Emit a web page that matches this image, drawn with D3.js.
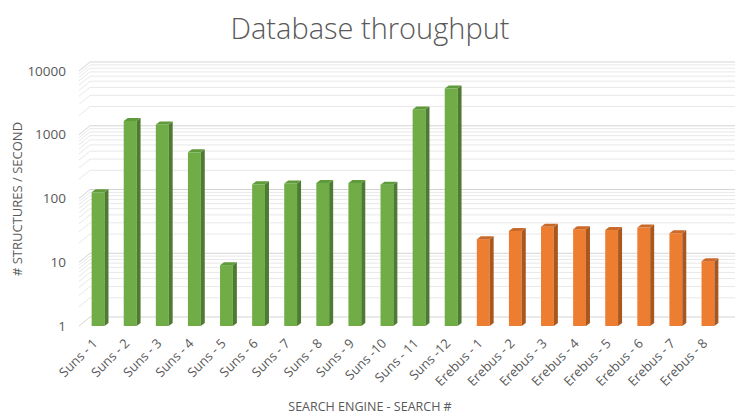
<!DOCTYPE html>
<html>
<head>
<meta charset="utf-8">
<script src="https://cdn.jsdelivr.net/npm/d3@7"></script>
<style>
  body { margin: 0; background: #fff; }
  text { font-family: "Open Sans", "Noto Sans", sans-serif; fill: #595959; }
</style>
</head>
<body>
<svg id="chart"></svg>
<script>
// data
const categories = ["Suns - 1", "Suns - 2", "Suns - 3", "Suns - 4", "Suns - 5", "Suns - 6",
  "Suns - 7", "Suns - 8", "Suns - 9", "Suns -10", "Suns - 11", "Suns -12",
  "Erebus - 1", "Erebus - 2", "Erebus - 3", "Erebus - 4", "Erebus - 5", "Erebus - 6",
  "Erebus - 7", "Erebus - 8"];
const values = [125, 1650, 1450, 530, 9, 167, 172, 175, 175, 165, 2500, 5300,
  23, 31, 36, 33, 32, 35, 28.5, 10.4];
const engines = ["Suns", "Suns", "Suns", "Suns", "Suns", "Suns", "Suns", "Suns", "Suns", "Suns", "Suns", "Suns",
  "Erebus", "Erebus", "Erebus", "Erebus", "Erebus", "Erebus", "Erebus", "Erebus"];
const yTicks = [1, 10, 100, 1000, 10000];

const svgWidth = 740, svgHeight = 420;
const depthX = 11, depthY = -9;   // back wall offset
const colors = {
  Suns: { front: "#70ad47", side: "#4e7a31", top: "#5f9a3b" },
  Erebus: { front: "#ed7d31", side: "#a8581f", top: "#c9692a" }
};

const svg = d3.select("#chart")
    .attr("width", svgWidth)
    .attr("height", svgHeight);

const x = d3.scaleBand()
    .domain(categories)
    .range([82, 724])
    .paddingInner(0.6)
    .paddingOuter(0.3);

const y = d3.scaleLog()
    .domain([1, 10000])
    .range([326, 71]);

// gridlines on the back wall, minor first
const minor = [];
for (let d = 1; d < 10000; d *= 10) {
  for (let m = 2; m < 10; m++) minor.push(d * m);
}
const grid = svg.append("g");
function drawGrid(list, color) {
  grid.selectAll(null)
    .data(list)
    .enter()
    .append("polyline")
    .attr("points", function (d) {
      const yy = y(d);
      return [[79, yy], [79 + depthX, yy + depthY], [735, yy + depthY]].join(" ");
    })
    .attr("fill", "none")
    .attr("stroke", color)
    .attr("stroke-width", 1);
}
drawGrid(minor, "#e8e8e8");
drawGrid(yTicks, "#d4d4d4");

// y tick labels
svg.append("g")
  .selectAll("text")
  .data(yTicks)
  .enter()
  .append("text")
  .attr("x", 66)
  .attr("y", function (d) { return y(d); })
  .attr("dy", "0.35em")
  .attr("text-anchor", "end")
  .style("font-size", "13.5px")
  .text(function (d) { return d; });

// bars: front, side, top
const bw = x.bandwidth();
const sideW = 4, sideH = 3;
const bars = svg.append("g")
  .selectAll("g")
  .data(values)
  .enter()
  .append("g");

bars.append("rect")
  .attr("x", function (d, i) { return x(categories[i]); })
  .attr("y", function (d) { return y(d); })
  .attr("width", bw)
  .attr("height", function (d) { return y(1) - y(d); })
  .attr("fill", function (d, i) { return colors[engines[i]].front; });

bars.append("polygon")
  .attr("points", function (d, i) {
    const x0 = x(categories[i]) + bw, y0 = y(d), y1 = y(1);
    return [[x0, y0], [x0 + sideW, y0 - sideH], [x0 + sideW, y1 - sideH], [x0, y1]].join(" ");
  })
  .attr("fill", function (d, i) { return colors[engines[i]].side; });

bars.append("polygon")
  .attr("points", function (d, i) {
    const x0 = x(categories[i]), y0 = y(d);
    return [[x0, y0], [x0 + sideW, y0 - sideH], [x0 + bw + sideW, y0 - sideH], [x0 + bw, y0]].join(" ");
  })
  .attr("fill", function (d, i) { return colors[engines[i]].top; });

// x tick labels, rotated
svg.append("g")
  .selectAll("text")
  .data(categories)
  .enter()
  .append("text")
  .attr("transform", function (d) {
    return "translate(" + (x(d) + bw / 2 - 3) + ",341) rotate(-45)";
  })
  .attr("text-anchor", "end")
  .attr("dy", "0.35em")
  .style("font-size", "13px")
  .text(function (d) { return d; });

// titles
svg.append("text")
  .attr("x", 370)
  .attr("y", 39)
  .attr("text-anchor", "middle")
  .style("font-size", "29px")
  .style("font-weight", 300)
  .text("Database throughput");

svg.append("text")
  .attr("transform", "translate(22,199) rotate(-90)")
  .attr("text-anchor", "middle")
  .style("font-size", "13px")
  .text("# STRUCTURES / SECOND");

svg.append("text")
  .attr("x", 370)
  .attr("y", 411)
  .attr("text-anchor", "middle")
  .style("font-size", "12.5px")
  .text("SEARCH ENGINE - SEARCH #");
</script>
</body>
</html>
